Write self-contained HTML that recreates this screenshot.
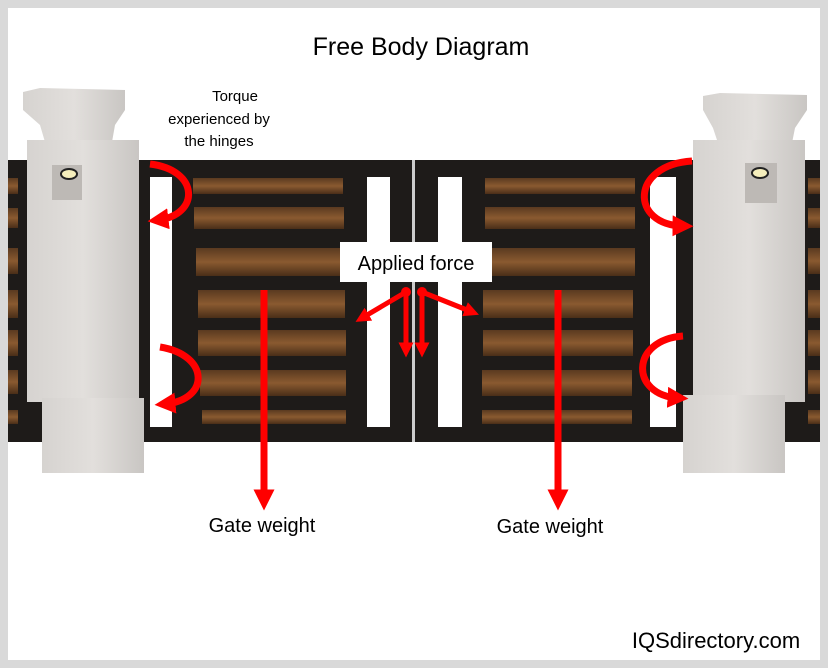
<!DOCTYPE html>
<html><head><meta charset="utf-8"><style>
html,body{margin:0;padding:0;background:#fff}
svg{display:block}
text{font-family:"Liberation Sans","DejaVu Sans",sans-serif}
</style></head><body>
<svg width="828" height="668" viewBox="0 0 828 668" xmlns="http://www.w3.org/2000/svg">
<defs>
<linearGradient id="wood" x1="0" y1="0" x2="0" y2="1">
<stop offset="0" stop-color="#5a3a20"/><stop offset="0.5" stop-color="#8a5a30"/><stop offset="1" stop-color="#4a2e18"/>
</linearGradient>
<linearGradient id="stone" x1="0" y1="0" x2="1" y2="0">
<stop offset="0" stop-color="#d6d3d0"/><stop offset="0.5" stop-color="#e2dfdc"/><stop offset="1" stop-color="#c9c6c3"/>
</linearGradient>
<marker id="ah" viewBox="0 0 10 10" refX="5" refY="5" markerWidth="3" markerHeight="3" orient="auto"><path d="M0,0L10,5L0,10z" fill="#f00"/></marker>
</defs>
<rect width="828" height="668" fill="#d9d9d9"/>
<rect x="8" y="8" width="812" height="652" fill="#fff"/>
<text x="421" y="55" font-size="25" text-anchor="middle" fill="#000">Free Body Diagram</text>
<!-- fence band -->
<rect x="8" y="160" width="812" height="282" fill="#1e1b19"/>
<!-- side wood -->
<g fill="url(#wood)">
<rect x="8" y="178" width="10" height="16"/><rect x="8" y="208" width="10" height="20"/><rect x="8" y="248" width="10" height="26"/><rect x="8" y="290" width="10" height="28"/><rect x="8" y="330" width="10" height="26"/><rect x="8" y="370" width="10" height="24"/><rect x="8" y="410" width="10" height="14"/>
<rect x="808" y="178" width="12" height="16"/><rect x="808" y="208" width="12" height="20"/><rect x="808" y="248" width="12" height="26"/><rect x="808" y="290" width="12" height="28"/><rect x="808" y="330" width="12" height="26"/><rect x="808" y="370" width="12" height="24"/><rect x="808" y="410" width="12" height="14"/>
</g>
<!-- gate divider -->
<rect x="412" y="160" width="3" height="282" fill="#ccc"/>
<!-- white bars -->
<g fill="#fff">
<rect x="150" y="177" width="22" height="250"/><rect x="367" y="177" width="23" height="250"/>
<rect x="438" y="177" width="24" height="250"/><rect x="650" y="177" width="26" height="250"/>
</g>
<!-- wood planks -->
<g fill="url(#wood)">
<rect x="193" y="178" width="150" height="16"/><rect x="194" y="207" width="150" height="22"/><rect x="196" y="248" width="145" height="28"/><rect x="198" y="290" width="147" height="28"/><rect x="198" y="330" width="148" height="26"/><rect x="200" y="370" width="146" height="26"/><rect x="202" y="410" width="144" height="14"/>
<rect x="485" y="178" width="150" height="16"/><rect x="485" y="207" width="150" height="22"/><rect x="490" y="248" width="145" height="28"/><rect x="483" y="290" width="150" height="28"/><rect x="483" y="330" width="150" height="26"/><rect x="482" y="370" width="150" height="26"/><rect x="482" y="410" width="150" height="14"/>
</g>
<!-- left pillar -->
<g fill="url(#stone)">
<path d="M23,92 L40,88 L125,90 L125,110 L115,125 L112,142 L45,142 L40,125 L23,110z"/>
<rect x="27" y="140" width="112" height="262"/>
<rect x="42" y="398" width="102" height="75"/>
</g>
<rect x="52" y="165" width="30" height="35" fill="#bdb9b5"/>
<ellipse cx="69" cy="174" rx="8" ry="5" fill="#f5eebc" stroke="#222" stroke-width="2"/>
<!-- right pillar -->
<g fill="url(#stone)">
<path d="M703,96 L720,93 L807,95 L807,110 L795,128 L792,143 L718,143 L713,128 L703,110z"/>
<rect x="693" y="140" width="112" height="262"/>
<rect x="683" y="395" width="102" height="78"/>
</g>
<rect x="745" y="163" width="32" height="40" fill="#bdb9b5"/>
<ellipse cx="760" cy="173" rx="8" ry="5" fill="#f5eebc" stroke="#222" stroke-width="2"/>
<!-- torque arrows -->
<g fill="none" stroke="#f00" stroke-width="7" marker-end="url(#ah)">
<path d="M150,164 C200,170 200,215 158,220"/>
<path d="M160,347 C210,355 210,400 165,404"/>
<path d="M692,161 C630,165 630,225 683,226"/>
<path d="M683,336 C630,340 630,395 678,398"/>
</g>
<!-- applied force arrows -->
<g fill="none" stroke="#f00" stroke-width="5" marker-end="url(#ah)">
<path d="M406,292 L362,318"/>
<path d="M406,292 L406,350"/>
<path d="M422,292 L422,350"/>
<path d="M422,292 L472,312"/>
</g>
<circle cx="406" cy="292" r="5" fill="#f00"/><circle cx="422" cy="292" r="5" fill="#f00"/>
<!-- gate weight -->
<g stroke="#f00" stroke-width="7" marker-end="url(#ah)">
<line x1="264" y1="290" x2="264" y2="500"/>
<line x1="558" y1="290" x2="558" y2="500"/>
</g>
<rect x="340" y="242" width="152" height="40" fill="#fff"/>
<text x="416" y="270" font-size="20" text-anchor="middle">Applied force</text>
<text x="235" y="101" font-size="15" text-anchor="middle">Torque</text>
<text x="219" y="124" font-size="15" text-anchor="middle">experienced by</text>
<text x="219" y="146" font-size="15" text-anchor="middle">the hinges</text>
<text x="262" y="532" font-size="20" text-anchor="middle">Gate weight</text>
<text x="550" y="533" font-size="20" text-anchor="middle">Gate weight</text>
<text x="716" y="648" font-size="22" text-anchor="middle">IQSdirectory.com</text>
</svg>
</body></html>
